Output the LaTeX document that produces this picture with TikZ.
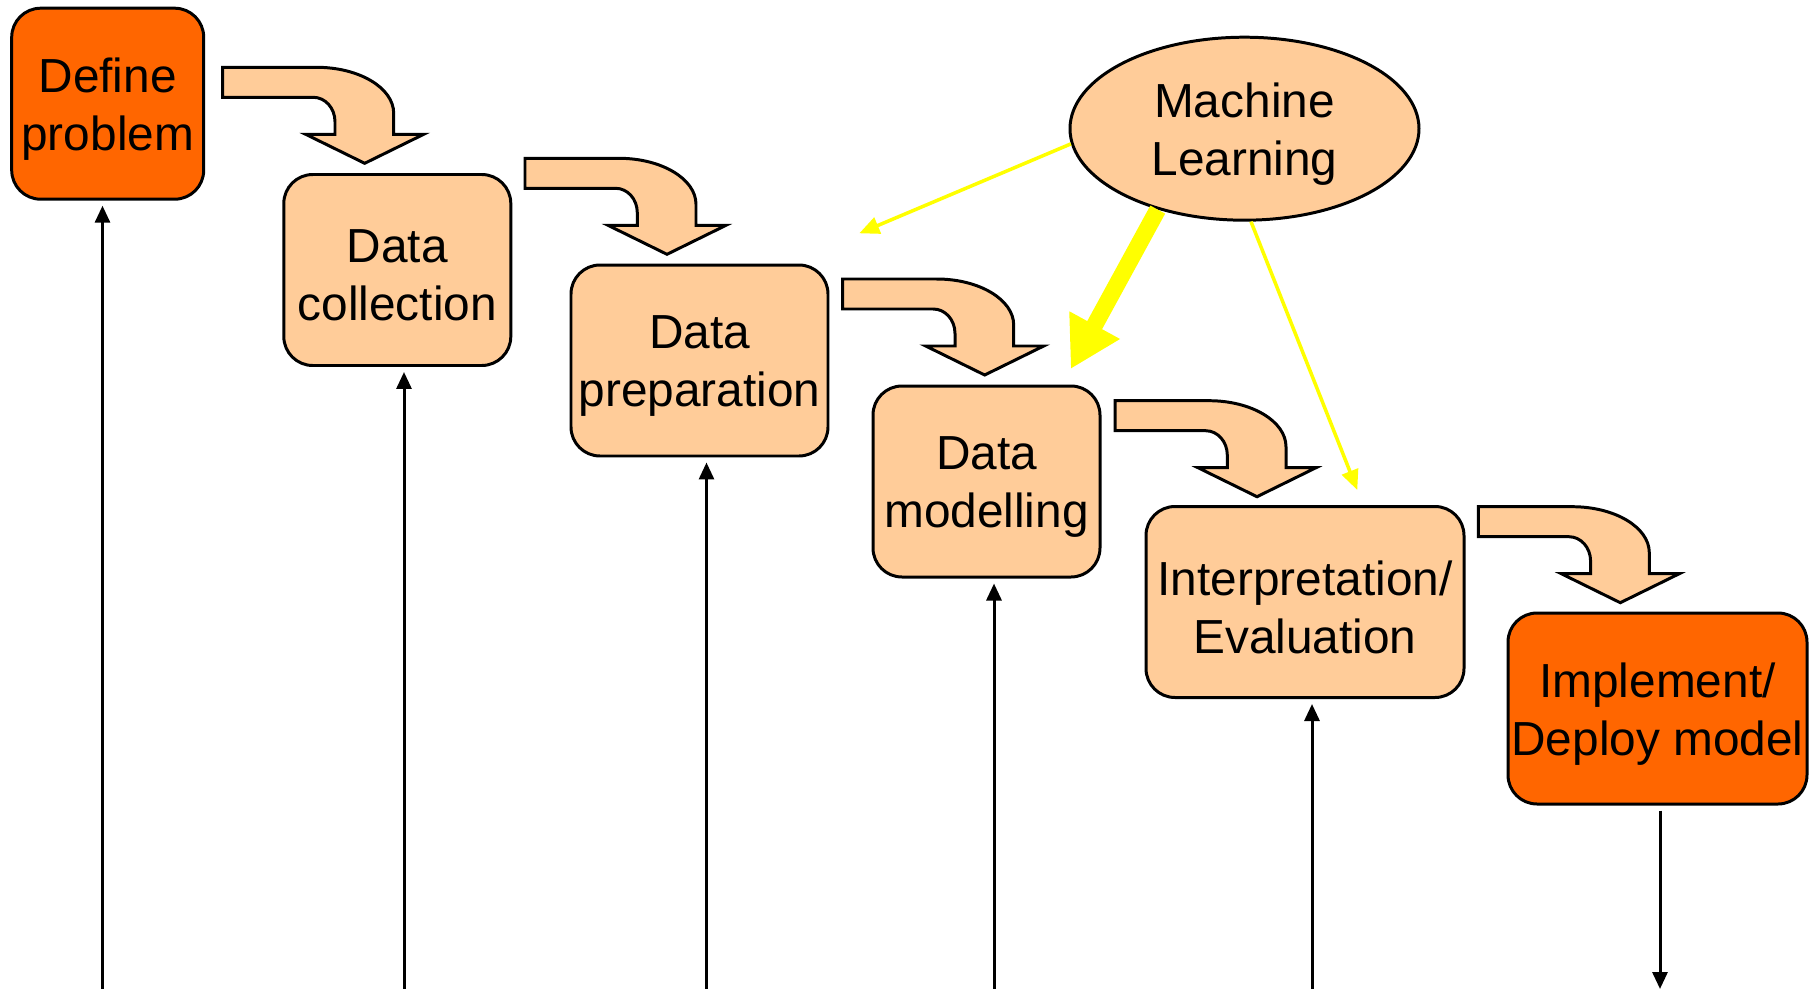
\documentclass[tikz,border=0pt]{standalone}
\usepackage{fontspec}
\setmainfont{Liberation Sans}
\usepackage{xcolor}
\usetikzlibrary{shapes.geometric,arrows.meta,calc}

\definecolor{deeporange}{HTML}{FF6600}
\definecolor{peach}{HTML}{FFCC99}
\definecolor{hiyellow}{HTML}{FFFF00}

\begin{document}
\begin{tikzpicture}[x=0.1mm,y=-0.1mm,
    stagetext/.style={align=center, inner sep=0pt, yshift=-1.6pt, font=\fontsize{13.6}{16.5}\selectfont},
    stage/.style={shape=rectangle, rounded corners=2.9mm, draw, line width=0.85pt, fill=peach,
      inner sep=0pt, minimum height=19.1mm},
    endstage/.style={stage, fill=deeporange},
    mlnode/.style={shape=ellipse, draw, line width=0.85pt, fill=peach, inner sep=0pt,
      minimum width=34.9mm, minimum height=18.3mm},
    uparrow/.style={line width=0.3mm, -{Triangle[width=1.5mm,length=1.7mm]}},
    thinyellow/.style={draw=hiyellow, line width=1pt, -{Triangle[width=1.7mm,length=2mm]}, hiyellow},
    thickyellow/.style={draw=hiyellow, line width=4.8pt, -{Triangle[width=5.4mm,length=5mm]}, hiyellow},
    bendarrow/.pic={
      \draw[line width=0.85pt, fill=peach, line join=miter]
        (0,0) -- (0,30) -- (90.6,30) .. controls (102.6,30) and (112.3,40.9) .. (112.3,54.4)
        -- (112.3,67) -- (83,67) -- (142,96) -- (201,67) -- (171,67) -- (171,46)
        .. controls (171,20.6) and (136.5,0) .. (94,0) -- cycle;
    }]
    \useasboundingbox (0,0) rectangle (1816,989);

    \node[endstage, minimum width=19.2mm, label={[stagetext]center:{Define\\problem}}] (define) at (107.7,103.7) {};
    \node[stage, minimum width=22.7mm, label={[stagetext]center:{Data\\collection}}] (collect) at (397.3,270) {};
    \node[stage, minimum width=25.7mm, label={[stagetext]center:{Data\\preparation}}] (prep) at (699.5,360.5) {};
    \node[stage, minimum width=22.7mm, label={[stagetext]center:{Data\\modelling}}] (model) at (986.5,481.5) {};
    \node[stage, minimum width=31.8mm, label={[stagetext]center:{Interpretation/\\Evaluation}}] (interp) at (1305,602) {};
    \node[endstage, minimum width=29.9mm, label={[stagetext]center:{Implement/\\Deploy model}}] (deploy) at (1657.5,708.5) {};

    \node[mlnode, label={[stagetext]center:{Machine\\Learning}}] (ml) at (1244.5,128.7) {};

    % curved block arrows between the stages
    \pic at (222.7,67.3) {bendarrow};
    \pic at (525,158.3) {bendarrow};
    \pic at (842.7,279) {bendarrow};
    \pic at (1115,400.7) {bendarrow};
    \pic at (1478.3,506.7) {bendarrow};

    % yellow arrows out of the machine learning bubble
    \coordinate (mlleft) at (859.3,233.3);
    \coordinate (mlmid) at (1070.7,369);
    \coordinate (mlright) at (1357.3,490);
    \draw[thinyellow] (ml.185) -- (mlleft);
    \draw[thickyellow] (ml.223) -- (mlmid);
    \draw[thinyellow] (ml.274) -- (mlright);

    % long arrows coming up from below
    \coordinate (b1) at (102.5,989);
    \coordinate (b2) at (404,989);
    \coordinate (b3) at (706.5,989);
    \coordinate (b4) at (994,989);
    \coordinate (b5) at (1312,989);
    \coordinate (b6) at (1660,989);
    \draw[uparrow] (b1) -- ($(b1 |- define.south)+(0,5)$);
    \draw[uparrow] (b2) -- ($(b2 |- collect.south)+(0,5)$);
    \draw[uparrow] (b3) -- ($(b3 |- prep.south)+(0,5)$);
    \draw[uparrow] (b4) -- ($(b4 |- model.south)+(0,5)$);
    \draw[uparrow] (b5) -- ($(b5 |- interp.south)+(0,5)$);
    \draw[uparrow] ($(b6 |- deploy.south)+(0,5)$) -- (b6);
\end{tikzpicture}
\end{document}
